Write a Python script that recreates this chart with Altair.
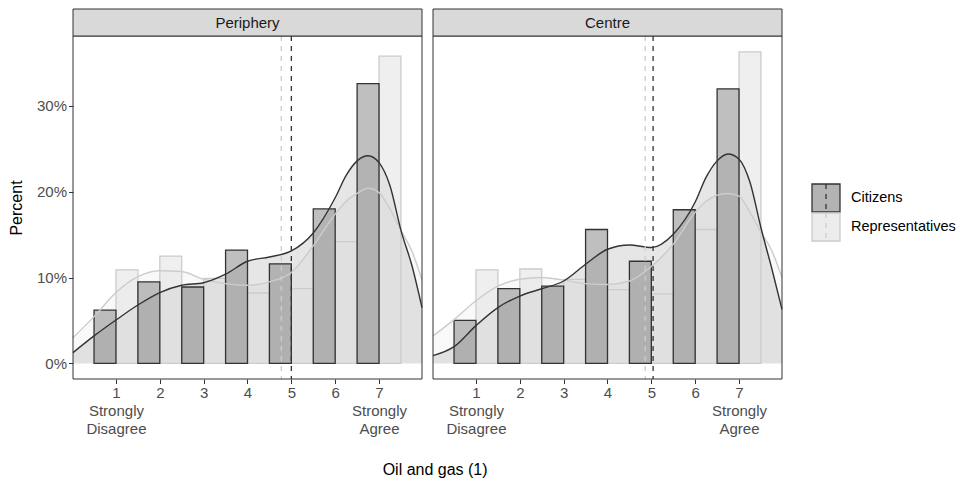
import altair as alt
import pandas as pd

FONT = "Liberation Sans"

panels = ["Periphery", "Centre"]
groups = ["Citizens", "Representatives"]
answers = [1, 2, 3, 4, 5, 6, 7]

# Percent of respondents giving each answer (1 = strongly disagree, 7 = strongly agree)
periphery_citizens = [6.2, 9.5, 8.9, 13.2, 11.6, 18.0, 32.6]
periphery_representatives = [10.9, 12.5, 9.9, 8.2, 8.7, 14.2, 35.8]
centre_citizens = [5.0, 8.7, 9.0, 15.6, 11.9, 17.9, 32.0]
centre_representatives = [10.9, 11.0, 9.8, 8.6, 8.1, 15.6, 36.3]

# Mean answer of each group (Citizens, Representatives)
periphery_means = [5.00, 4.77]
centre_means = [5.04, 4.86]

# Smoothed density of the answers, scaled to percent
density_x = [0.02, 0.5, 1, 1.5, 2, 2.5, 3, 3.5, 4, 4.5, 5, 5.5, 6,
             6.25, 6.5, 6.75, 7, 7.25, 7.5, 7.75, 7.98]
periphery_citizens_density = [1.25, 3.2, 5.05, 6.8, 8.25, 9.1, 9.4, 10.4, 11.9, 12.4, 13.1,
                              15.2, 19.3, 21.9, 23.6, 24.2, 23.4, 20.7, 15.5, 11.4, 6.5]
periphery_representatives_density = [3.0, 5.45, 8.25, 10.1, 10.8, 10.7, 9.8, 9.3, 9.1, 9.5, 10.6,
                                     13.7, 17.4, 18.9, 19.8, 20.4, 19.9, 18.0, 15.5, 13.1, 9.7]
centre_citizens_density = [0.9, 1.95, 4.4, 6.5, 7.85, 8.7, 9.6, 11.55, 13.3, 13.8, 13.5,
                           15.05, 18.8, 21.7, 23.6, 24.4, 23.8, 21.1, 15.8, 11.0, 6.3]
centre_representatives_density = [3.2, 5.1, 7.3, 9.0, 9.8, 10.0, 9.7, 9.3, 9.2, 9.6, 11.3,
                                  13.9, 17.6, 18.9, 19.6, 19.8, 19.5, 17.6, 15.3, 13.1, 10.0]

fill_colors = ["#808080", "#dfdfdf"]
line_colors = ["#333333", "#cccccc"]

W, H = 349, 343
STRIP = 27
LEG_W = 165

x_scale = alt.Scale(domain=[0.02, 7.98], nice=False, zero=False)
y_scale = alt.Scale(domain=[-1.82, 38.15], nice=False, zero=False)
fill_scale = alt.Scale(domain=groups, range=fill_colors)
stroke_scale = alt.Scale(domain=groups, range=line_colors)

x_axis = alt.Axis(
    values=answers,
    labelExpr=("datum.value == 1 ? ['1', 'Strongly', 'Disagree'] : "
               "datum.value == 7 ? ['7', 'Strongly', 'Agree'] : datum.label"),
    grid=False, domain=False, tickColor="#333333", tickSize=4.5, tickWidth=1,
    labelColor="#4d4d4d", labelFontSize=15, labelFont=FONT, labelLineHeight=18,
    labelPadding=2, title=None,
)
y_axis = alt.Axis(
    values=[0, 10, 20, 30], labelExpr="datum.value + '%'",
    grid=False, domain=False, tickColor="#333333", tickSize=4.5, tickWidth=1,
    labelColor="#4d4d4d", labelFontSize=15, labelFont=FONT, labelPadding=2,
    title="Percent", titleFont=FONT, titleFontSize=16, titleFontWeight="normal",
    titleColor="#000000", titlePadding=12,
)


def panel(name, cit, rep, means, cit_d, rep_d, show_y):
    bar_rows = []
    for g, vals in (("Representatives", rep), ("Citizens", cit)):
        for a, p in zip(answers, vals):
            bar_rows.append({"group": g, "answer": a, "pct": p})
    bars_df = pd.DataFrame(bar_rows)

    dens_rows = []
    for g, vals in (("Representatives", rep_d), ("Citizens", cit_d)):
        for x, d in zip(density_x, vals):
            dens_rows.append({"group": g, "x": x, "density": d})
    dens_df = pd.DataFrame(dens_rows)

    mean_df = pd.DataFrame({"group": groups, "mean": means})

    def X(field):
        return alt.X(field, scale=x_scale, axis=x_axis)

    def Y(field):
        if show_y:
            return alt.Y(field, scale=y_scale, axis=y_axis, stack=False)
        return alt.Y(field, scale=y_scale, axis=None, stack=False)

    fill = alt.Fill("group:N", scale=fill_scale, legend=None)
    stroke = alt.Stroke("group:N", scale=stroke_scale, legend=None)

    area = alt.Chart(dens_df).mark_area(interpolate="monotone", fillOpacity=0.2).encode(
        x=X("x:Q"), y=Y("density:Q"), y2=alt.Y2Datum(0), fill=fill
    )
    bars = alt.Chart(bars_df).transform_calculate(
        x0="datum.answer - (datum.group == 'Citizens' ? 0.5 : 0)",
        x1="datum.answer + (datum.group == 'Citizens' ? 0 : 0.5)",
    ).mark_rect(fillOpacity=0.5, strokeWidth=1.3).encode(
        x=X("x0:Q"), x2="x1:Q", y=Y("pct:Q"), y2=alt.Y2Datum(0),
        fill=fill, stroke=stroke,
    )
    lines = alt.Chart(dens_df).mark_line(interpolate="monotone", strokeWidth=1.4).encode(
        x=X("x:Q"), y=Y("density:Q"), stroke=stroke
    )
    rules = alt.Chart(mean_df).mark_rule(strokeDash=[5, 5], strokeWidth=1.3).encode(
        x=X("mean:Q"), y=alt.value(0), y2=alt.value(H), stroke=stroke
    )
    head = alt.Data(values=[{"panel": name}])
    frame = alt.Chart(head).mark_rect(fill="transparent", stroke="#333333", strokeWidth=1).encode(
        x=alt.value(0), x2=alt.value(W), y=alt.value(0), y2=alt.value(H)
    )
    strip = alt.Chart(head).mark_rect(fill="#d9d9d9", stroke="#333333", strokeWidth=1).encode(
        x=alt.value(0), x2=alt.value(W), y=alt.value(-STRIP), y2=alt.value(0)
    )
    strip_text = alt.Chart(head).mark_text(
        font=FONT, fontSize=15, color="#1a1a1a", baseline="middle", align="center"
    ).encode(x=alt.value(W / 2), y=alt.value(-STRIP / 2), text="panel:N")

    return alt.layer(area, bars, lines, rules, frame, strip, strip_text).properties(
        width=W, height=H
    )


left = panel(panels[0], periphery_citizens, periphery_representatives, periphery_means,
             periphery_citizens_density, periphery_representatives_density, True)
right = panel(panels[1], centre_citizens, centre_representatives, centre_means,
              centre_citizens_density, centre_representatives_density, False)

# Legend drawn as its own small view
leg_df = pd.DataFrame({"group": groups, "label": groups})
leg_y = alt.Y("group:N", scale=alt.Scale(type="point", domain=groups, range=[162, 191], padding=0),
              axis=None)
leg_fill = alt.Fill("group:N", scale=fill_scale, legend=None)
leg_stroke = alt.Stroke("group:N", scale=stroke_scale, legend=None)
KEY_X = 36

key_bg = alt.Chart(leg_df).mark_square(size=784, filled=True, fillOpacity=0.2, strokeWidth=0).encode(
    x=alt.value(KEY_X), y=leg_y, fill=leg_fill
)
key_bar = alt.Chart(leg_df).mark_square(size=784, filled=True, fillOpacity=0.5, strokeWidth=1.3).encode(
    x=alt.value(KEY_X), y=leg_y, fill=leg_fill, stroke=leg_stroke
)
key_line = alt.Chart(leg_df).mark_rule(strokeDash=[5, 5], strokeWidth=1.3, yOffset=-14, y2Offset=14).encode(
    x=alt.value(KEY_X), y=leg_y, y2=alt.Y2("group:N"), stroke=leg_stroke
)
key_text = alt.Chart(leg_df).mark_text(
    align="left", baseline="middle", font=FONT, fontSize=14.5, color="#000000"
).encode(x=alt.value(KEY_X + 25), y=leg_y, text="label:N")
spacer = alt.Chart(alt.Data(values=[{"a": 1}])).mark_rect(fill="transparent").encode(
    x=alt.value(0), x2=alt.value(LEG_W), y=alt.value(-STRIP), y2=alt.value(H)
)
legend = alt.layer(spacer, key_bg, key_bar, key_line, key_text).properties(width=LEG_W, height=H)

chart = alt.hconcat(
    left, right, legend, spacing=5,
    title=alt.TitleParams(
        "Oil and gas (1)", orient="bottom", anchor="middle", font=FONT, fontSize=16,
        fontWeight="normal", color="#000000", offset=25, dx=-47,
    ),
).resolve_scale(x="independent", y="independent").properties(
    padding={"left": 8, "top": 8, "right": 5, "bottom": 5}, background="white"
).configure_view(strokeWidth=0)

chart.save("out.html", embed_options={"renderer": "svg", "actions": False})
